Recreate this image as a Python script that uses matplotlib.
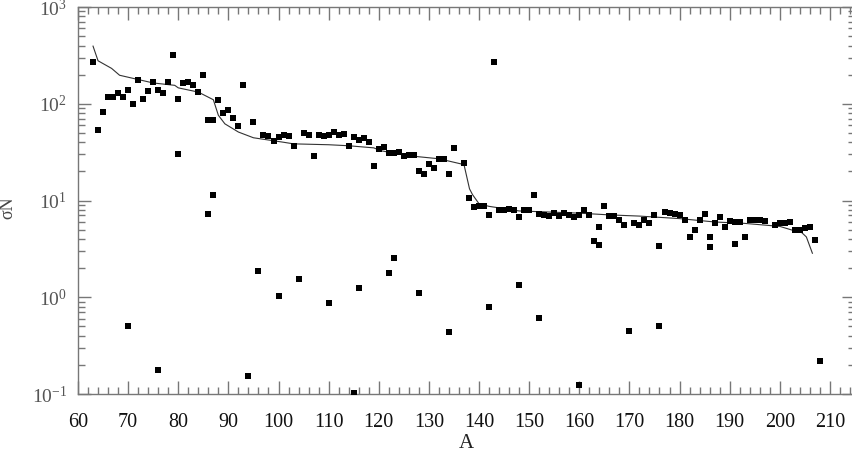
import matplotlib
matplotlib.use("Agg")
import matplotlib.pyplot as plt
from matplotlib.ticker import MultipleLocator, LogLocator, NullFormatter

plt.rcParams['font.family'] = ['Liberation Serif', 'DejaVu Serif']
plt.rcParams['mathtext.fontset'] = 'custom'
plt.rcParams['mathtext.rm'] = 'Liberation Serif'
plt.rcParams['mathtext.it'] = 'Liberation Serif:italic'

# measured points (mass number A, sigma*N)
a_pts = [63, 64, 65, 66, 67, 68, 69, 70, 70, 71, 72, 73, 74, 75, 76, 76, 77, 78, 79, 80,
         80, 81, 82, 83, 84, 85, 86, 86, 87, 87, 88, 89, 90, 91, 92, 93, 94, 95, 96, 97,
         98, 99, 100, 100, 101, 102, 103, 104, 105, 106, 107, 108, 109, 110, 110, 111, 112, 113, 114, 115,
         115, 116, 116, 117, 118, 119, 120, 121, 122, 122, 123, 123, 124, 125, 126, 127, 128, 128, 129, 130,
         131, 132, 133, 134, 134, 135, 137, 138, 139, 140, 141, 142, 142, 143, 144, 145, 146, 147, 148, 148,
         149, 150, 151, 152, 152, 153, 154, 155, 156, 157, 158, 159, 160, 160, 161, 162, 163, 164, 164, 165,
         166, 167, 168, 169, 170, 171, 172, 173, 174, 175, 176, 176, 177, 178, 179, 180, 181, 182, 183, 184,
         185, 186, 186, 187, 188, 189, 190, 191, 191, 192, 193, 194, 195, 196, 197, 199, 200, 201, 202, 203,
         204, 205, 206, 207, 208]
sigma_pts = [271, 53.5, 82, 118, 118, 129, 118, 138, 0.50, 99.5, 178, 112, 136, 168, 139, 0.177, 129, 167, 320, 112,
             30.5, 164, 168, 156, 132, 197, 68, 7.2, 68, 11.3, 110, 80, 87, 72, 59, 156, 0.152, 64.8, 1.89, 47.5,
             46, 41, 45, 1.03, 47.5, 46, 37, 1.56, 50, 48, 29, 47.5, 46, 47.5, 0.88, 50.7, 47.5, 48.6, 36.6, 45,
             0.102, 41.9, 1.26, 43.9, 40.6, 22.5, 34.4, 35.4, 31.2, 1.77, 31.2, 2.53, 32, 28.8, 29.2, 29.2, 20.3, 1.10, 18.9, 23.6,
             21.8, 26.6, 27, 18.6, 0.44, 34.6, 24.4, 10.7, 8.5, 8.7, 8.8, 7.1, 0.80, 271, 8.0, 7.9, 8.1, 7.9, 6.7, 1.34,
             8.0, 8.0, 11.3, 7.3, 0.61, 7.0, 6.9, 7.5, 6.9, 7.4, 7.1, 6.8, 7.0, 0.123, 8.0, 7.1, 3.85, 5.3, 3.5, 8.7,
             6.9, 6.9, 6.3, 5.6, 0.45, 5.9, 5.6, 6.3, 5.9, 7.1, 3.4, 0.50, 7.6, 7.4, 7.2, 7.1, 6.3, 4.2, 5.0, 6.3,
             7.2, 4.2, 3.3, 5.9, 6.7, 5.3, 6.1, 6.0, 3.55, 5.95, 4.2, 6.3, 6.3, 6.3, 6.1, 5.6, 5.8, 5.8, 5.95, 4.9,
             5.0, 5.2, 5.3, 3.9, 0.22]

# model curve
a_line = [63, 64, 66.7, 68.3, 72, 75, 79.3, 80, 84, 87, 88, 89.3, 92, 95, 101, 103, 110, 114, 119,
          120.4, 126, 132, 137, 138.1, 138.7, 140, 142, 148, 160, 166, 172, 180, 187, 193, 200,
          202.7, 204.3, 205.3, 206.5]
sigma_line = [394, 278, 232, 197, 178, 164, 155, 146, 132, 110, 76, 62, 51, 44.5, 40, 38.5, 37.7, 36.8, 35,
              32.7, 29, 27, 23.5, 13.2, 11.5, 9.25, 8.7, 7.8, 7.4, 7.1, 6.9, 6.5, 6.0, 5.8, 5.4,
              4.9, 4.7, 4.2, 2.85]

x_ticks = list(range(60, 211, 10))
y_ticks = [0.1, 1, 10, 100, 1000]
y_labels = [r'$10^{-1}$', r'$10^{0}$', r'$10^{1}$', r'$10^{2}$', r'$10^{3}$']

fig = plt.figure(figsize=(8.53, 4.59), dpi=100)
ax = fig.add_axes([78 / 853, 1 - 394 / 459, 777 / 853, 387 / 459])

ax.plot(a_line, sigma_line, color='#333333', lw=0.8, zorder=2)
ax.plot(a_pts, sigma_pts, 's', color='black', ms=4.2, mew=0, zorder=3)

ax.set_yscale('log')
ax.set_xlim(60, 215)
ax.set_ylim(0.1, 1000)

ax.set_xticks(x_ticks)
ax.set_xticklabels([str(t) for t in x_ticks], fontsize=14.5, color='#111111')
ax.xaxis.set_minor_locator(MultipleLocator(2))
ax.set_yticks(y_ticks)
ax.set_yticklabels(y_labels, fontsize=14, color='#555555')
ax.yaxis.set_minor_locator(LogLocator(base=10, subs=range(2, 10)))
ax.yaxis.set_minor_formatter(NullFormatter())

ax.tick_params(which='both', direction='in', top=True, right=True, color='#777777', width=1)
ax.tick_params(which='major', length=9.5)
ax.tick_params(which='minor', length=5)
ax.tick_params(axis='x', which='major', pad=14)
ax.tick_params(axis='y', which='major', pad=8)

for s in ax.spines.values():
    s.set_color('#777777')
    s.set_linewidth(1)

ax.set_xlabel('A', fontsize=15, color='#222222', labelpad=1)
fig.text(8 / 853, 1 - 208 / 459, 'σN', rotation=90, fontsize=13, color='#444444',
         ha='center', va='center')

fig.savefig('out.png', dpi=100)
